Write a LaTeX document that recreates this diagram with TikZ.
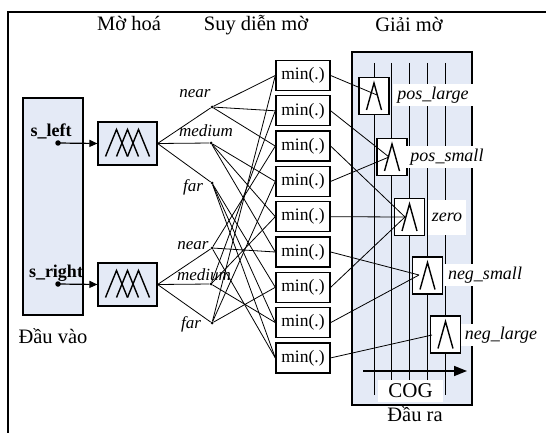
\documentclass[tikz,border=0pt]{standalone}
\usepackage{fontspec}
\setmainfont{Liberation Serif}
\usetikzlibrary{arrows.meta}
\definecolor{lblue}{RGB}{228,234,246}
\begin{document}
\begin{tikzpicture}[x=1pt,y=-1pt,
  hdr/.style={font=\fontsize{20.5}{23}\selectfont, anchor=base, inner sep=0pt},
  term/.style={font=\fontsize{17}{20}\selectfont\itshape, anchor=base, inner sep=0pt},
  inlab/.style={font=\fontsize{18}{21}\selectfont\bfseries, anchor=base, inner sep=0pt},
  minbox/.style={draw, line width=1.4pt, fill=white, minimum width=54pt, minimum height=30pt, inner sep=0pt, font=\fontsize{17.5}{20}\selectfont},
  fuzz/.style={draw, line width=1.2pt, fill=lblue, minimum width=59pt, minimum height=43pt, inner sep=0pt},
  mf/.style={draw, line width=1.2pt, fill=white, minimum width=30pt, minimum height=37pt, inner sep=0pt},
  mflab/.style={fill=white, font=\fontsize{18}{21}\selectfont\itshape, inner xsep=4pt, inner ysep=3pt},
  dot/.style={circle, fill, inner sep=0pt, minimum size=3pt},
  bigdot/.style={circle, fill, inner sep=0pt, minimum size=5.5pt},
  wire/.style={line width=0.8pt},
  lam/.style={line width=1.4pt},
]
\useasboundingbox (0,0) rectangle (546,433);
\draw[line width=1.5pt] (546,12) -- (8,12) -- (8,433);

% headers
\node[hdr] (h1) at (129,31) {Mờ hoá};
\node[hdr] (h2) at (256,31) {Suy diễn mờ};
\node[hdr] (h3) at (409,32) {Giải mờ};

% input block
\node[draw, line width=1.2pt, fill=lblue, minimum width=60pt, minimum height=217pt, inner sep=0pt] (in) at (53,206.5) {};
\node[hdr] (h4) at (53,343) {Đầu vào};
\node[inlab] (sl) at (51,136) {s\_left};
\node[inlab] (sr) at (56,277) {s\_right};
\node[bigdot] (dl) at (58,143) {};
\node[bigdot] (dr) at (58,284) {};

% fuzzifiers
\node[fuzz] (f1) at (127.5,143.5) {};
\node[fuzz] (f2) at (127.5,284.5) {};
\foreach \f in {f1,f2}{
  \begin{scope}[shift={(\f.center)}]
    \draw[lam] (-22,13) -- (-11,-14) -- (0,13);
    \draw[lam] (-11,13) -- (0,-14) -- (11,13);
    \draw[lam] (0,13) -- (11,-14) -- (22,13);
  \end{scope}
}
\draw[line width=1.2pt, -{Triangle[length=8pt,width=7pt]}] (dl.center) -- (f1.west);
\draw[line width=1.2pt, -{Triangle[length=8pt,width=7pt]}] (dr.center) -- (f2.west);

% linguistic terms
\node[term] (tln) at (195,98) {near};
\node[term] (tlm) at (206,137) {medium};
\node[term] (tlf) at (193,191) {far};
\node[term] (trn) at (193,249) {near};
\node[term] (trm) at (204,280) {medium};
\node[term] (trf) at (191,328) {far};

\node[dot] (ln) at (212,107) {};
\node[dot] (lm) at (211,143) {};
\node[dot] (lf) at (212,183) {};
\node[dot] (rn) at (212,248) {};
\node[dot] (rm) at (211,284) {};
\node[dot] (rf) at (212,323) {};

\draw[wire] (f1.east) -- (ln);
\draw[wire] (f1.east) -- (lm);
\draw[wire] (f1.east) -- (lf);
\draw[wire] (f2.east) -- (rn);
\draw[wire] (f2.east) -- (rm);
\draw[wire] (f2.east) -- (rf);

% rule boxes
\foreach \i in {1,...,9}{
  \node[minbox] (m\i) at (303,{75.5+35.3*(\i-1)}) {min(.)};
}

% rule wiring
\foreach \a/\b in {ln/m1,ln/m2,ln/m3,lm/m4,lm/m5,lm/m6,lf/m7,lf/m8,lf/m9,
                   rf/m1,rf/m4,rf/m7,rm/m2,rm/m5,rm/m8,rn/m3,rn/m6,rn/m9}{
  \draw[wire] (\a) -- (\b.west);
}

% output block
\node[draw, line width=1.4pt, fill=lblue, minimum width=120pt, minimum height=353pt, inner sep=0pt] (out) at (412,228.5) {};
\node[hdr] (h5) at (415,421) {Đầu ra};
\foreach \k in {0,...,4}{
  \draw[wire] ({374+17.8*\k},63) -- ({374+17.8*\k},395);
}

% output membership functions
\node[mf] (pl) at (374,96) {};
\node[mf] (ps) at (392,157) {};
\node[mf] (ze) at (409.5,217) {};
\node[mf] (ns) at (427.5,275.5) {};
\node[mf] (nl) at (445.5,334.5) {};
\foreach \m in {pl,ps,ze,ns,nl}{
  \draw[lam] ([shift={(-7.5,14)}]\m.center) -- ([shift={(0,-13)}]\m.center) -- ([shift={(7.5,14)}]\m.center);
}

\node[mflab] (lpl) at (433,95) {pos\_large};
\node[mflab] (lps) at (447,157) {pos\_small};
\node[mflab, minimum height=35pt] (lze) at (447,217) {zero};
\node[mflab] (lns) at (485,275) {neg\_small};
\node[mflab] (lnl) at (501,335) {neg\_large};

% COG
\coordinate (cogs) at (363,371);
\coordinate (coge) at (467,371);
\draw[line width=1.6pt, -{Triangle[length=13pt,width=10pt]}] (cogs) -- (coge);
\node[fill=white, minimum width=65pt, minimum height=22pt, inner sep=0pt, font=\fontsize{21}{24}\selectfont] (cog) at (410.5,391) {COG};

% rule outputs
\coordinate (pl-in) at (377,95);
\coordinate (ps-in) at (389,157);
\coordinate (ze-in) at (405,217);
\coordinate (ns-in) at (419,275);
\coordinate (nl-in) at (432,335);
\foreach \a/\b in {m1/pl,m2/ps,m3/ze,m4/ps,m5/ze,m6/ns,m7/ze,m8/ns,m9/nl}{
  \draw[wire] (\a.east) -- (\b-in);
}
\end{tikzpicture}
\end{document}
